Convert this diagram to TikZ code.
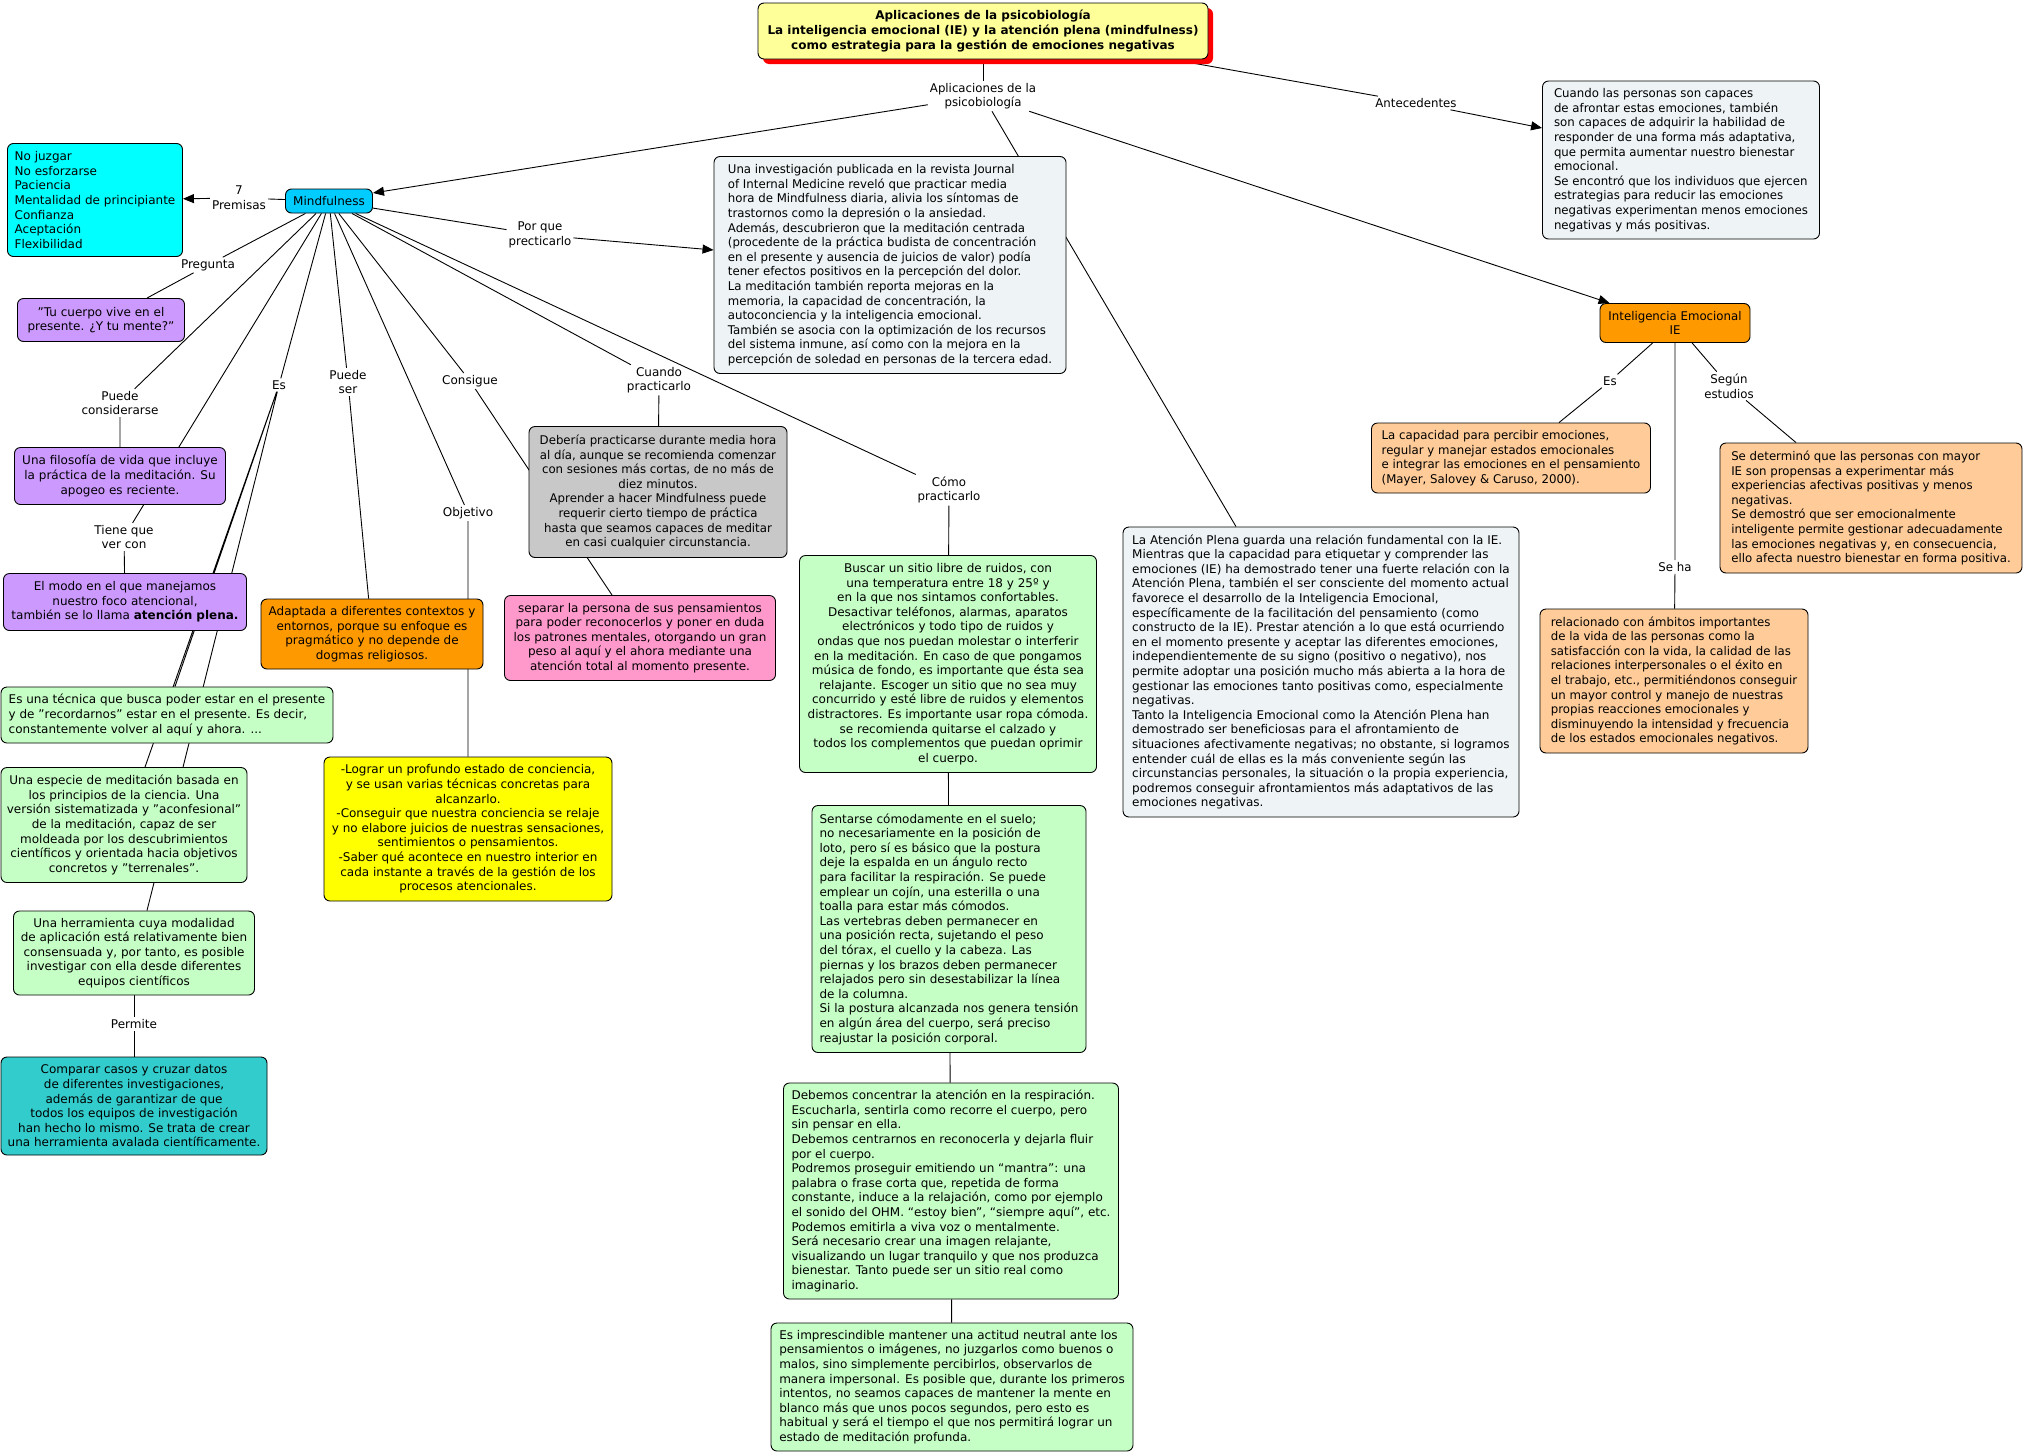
\documentclass[tikz,border=0pt]{standalone}
\usepackage{fontspec}
\setmainfont{DejaVu Sans}
\newfontfamily\tahoma[FakeStretch=0.98]{DejaVu Sans}
\usepackage{xcolor}
\usetikzlibrary{arrows.meta,shadows,backgrounds}
\definecolor{tituloam}{HTML}{FFFF99}
\definecolor{mfazul}{HTML}{00CCFF}
\definecolor{cian}{HTML}{00FFFF}
\definecolor{lila}{HTML}{CC99FF}
\definecolor{verdec}{HTML}{C6FFC6}
\definecolor{turquesa}{HTML}{33CCCC}
\definecolor{naranja}{HTML}{FF9900}
\definecolor{amarillo}{HTML}{FFFF00}
\definecolor{gris}{HTML}{C8C8C8}
\definecolor{rosa}{HTML}{FF99CC}
\definecolor{grisazul}{HTML}{EEF3F5}
\definecolor{melocoton}{HTML}{FFCC99}
\newcommand\mapfont{\fontsize{12}{14.6}\selectfont}

\begin{document}
\begin{tikzpicture}[
x=1pt,y=-1pt,
concept/.style={draw,rounded corners=6pt,line width=0.9pt,align=center,font=\mapfont,inner sep=4pt},
sz/.style 2 args={minimum width=#1,minimum height=#2},
lbl/.style={font=\mapfont,align=center,inner sep=2pt},
link/.style={line width=0.9pt},
arr/.style={-{Triangle[length=11pt,width=9pt]},line width=0.9pt}
]
\useasboundingbox (0,0) rectangle (2025,1454);

\node[concept,fill=tituloam,font=\mapfont\bfseries,general shadow={fill=red,shadow xshift=5pt,shadow yshift=-5pt},sz={450}{56}] (titulo) at (983,31) {Aplicaciones de la psicobiología\\La inteligencia emocional (IE) y la atención plena (mindfulness)\\como estrategia para la gestión de emociones negativas};
\node[lbl,font=\mapfont\tahoma] (aplic) at (983,96) {Aplicaciones de la\\psicobiología};

\node[concept,fill=mfazul,sz={87}{24}] (mind) at (329,201) {Mindfulness};
\node[concept,fill=cian,align=left,sz={175}{113}] (premisas) at (95,200) {No juzgar\\No esforzarse\\Paciencia\\Mentalidad de principiante\\Confianza\\Aceptación\\Flexibilidad};
\node[concept,fill=lila,sz={167}{43}] (cuerpo) at (101,320) {"Tu cuerpo vive en el\\presente. ¿Y tu mente?"};
\node[concept,fill=lila,sz={211}{57}] (filosofia) at (120,476) {Una filosofía de vida que incluye\\la práctica de la meditación. Su\\apogeo es reciente.};
\node[concept,fill=lila,sz={243}{57}] (modo) at (125,602) {El modo en el que manejamos\\nuestro foco atencional,\\también se lo llama \textbf{atención plena.}};
\node[concept,fill=verdec,align=left,sz={332}{56}] (tecnica) at (167,715) {Es una técnica que busca poder estar en el presente\\y de "recordarnos" estar en el presente. Es decir,\\constantemente volver al aquí y ahora. ...};
\node[concept,fill=verdec,sz={246}{115}] (especie) at (124,825) {Una especie de meditación basada en\\los principios de la ciencia. Una\\versión sistematizada y "aconfesional"\\de la meditación, capaz de ser\\moldeada por los descubrimientos\\científicos y orientada hacia objetivos\\concretos y "terrenales".};
\node[concept,fill=verdec,sz={241}{84}] (herram) at (134,953) {Una herramienta cuya modalidad\\de aplicación está relativamente bien\\consensuada y, por tanto, es posible\\investigar con ella desde diferentes\\equipos científicos};
\node[concept,fill=turquesa,sz={266}{98}] (comparar) at (134,1106) {Comparar casos y cruzar datos\\de diferentes investigaciones,\\además de garantizar de que\\todos los equipos de investigación\\han hecho lo mismo. Se trata de crear\\una herramienta avalada científicamente.};
\node[concept,fill=naranja,sz={222}{70}] (adaptada) at (372,634) {Adaptada a diferentes contextos y\\entornos, porque su enfoque es\\pragmático y no depende de\\dogmas religiosos.};
\node[concept,fill=amarillo,sz={288}{144}] (lograr) at (468,829) {-Lograr un profundo estado de conciencia,\\y se usan varias técnicas concretas para\\alcanzarlo.\\-Conseguir que nuestra conciencia se relaje\\y no elabore juicios de nuestras sensaciones,\\sentimientos o pensamientos.\\-Saber qué acontece en nuestro interior en\\cada instante a través de la gestión de los\\procesos atencionales.};
\node[concept,fill=gris,font=\mapfont\tahoma,sz={258}{131}] (deberia) at (658,492) {Debería practicarse durante media hora\\al día, aunque se recomienda comenzar\\con sesiones más cortas, de no más de\\diez minutos.\\Aprender a hacer Mindfulness puede\\requerir cierto tiempo de práctica\\hasta que seamos capaces de meditar\\en casi cualquier circunstancia.};
\node[concept,fill=rosa,sz={271}{85}] (separar) at (640,638) {separar la persona de sus pensamientos\\para poder reconocerlos y poner en duda\\los patrones mentales, otorgando un gran\\peso al aquí y el ahora mediante una\\atención total al momento presente.};
\node[concept,fill=grisazul,font=\mapfont\tahoma,align=left,sz={352}{217}] (investig) at (890,265) {Una investigación publicada en la revista Journal\\of Internal Medicine reveló que practicar media\\hora de Mindfulness diaria, alivia los síntomas de\\trastornos como la depresión o la ansiedad.\\Además, descubrieron que la meditación centrada\\(procedente de la práctica budista de concentración\\en el presente y ausencia de juicios de valor) podía\\tener efectos positivos en la percepción del dolor.\\La meditación también reporta mejoras en la\\memoria, la capacidad de concentración, la\\autoconciencia y la inteligencia emocional.\\También se asocia con la optimización de los recursos\\del sistema inmune, así como con la mejora en la\\percepción de soledad en personas de la tercera edad.};
\node[concept,fill=verdec,sz={297}{217}] (buscar) at (948,664) {Buscar un sitio libre de ruidos, con\\una temperatura entre 18 y 25º y\\en la que nos sintamos confortables.\\Desactivar teléfonos, alarmas, aparatos\\electrónicos y todo tipo de ruidos y\\ondas que nos puedan molestar o interferir\\en la meditación. En caso de que pongamos\\música de fondo, es importante que ésta sea\\relajante. Escoger un sitio que no sea muy\\concurrido y esté libre de ruidos y elementos\\distractores. Es importante usar ropa cómoda.\\se recomienda quitarse el calzado y\\todos los complementos que puedan oprimir\\el cuerpo.};
\node[concept,fill=verdec,align=left,sz={274}{247}] (sentarse) at (949,929) {Sentarse cómodamente en el suelo;\\no necesariamente en la posición de\\loto, pero sí es básico que la postura\\deje la espalda en un ángulo recto\\para facilitar la respiración. Se puede\\emplear un cojín, una esterilla o una\\toalla para estar más cómodos.\\Las vertebras deben permanecer en\\una posición recta, sujetando el peso\\del tórax, el cuello y la cabeza. Las\\piernas y los brazos deben permanecer\\relajados pero sin desestabilizar la línea\\de la columna.\\Si la postura alcanzada nos genera tensión\\en algún área del cuerpo, será preciso\\reajustar la posición corporal.};
\node[concept,fill=verdec,align=left,sz={335}{216}] (respira) at (951,1191) {Debemos concentrar la atención en la respiración.\\Escucharla, sentirla como recorre el cuerpo, pero\\sin pensar en ella.\\Debemos centrarnos en reconocerla y dejarla fluir\\por el cuerpo.\\Podremos proseguir emitiendo un “mantra”: una\\palabra o frase corta que, repetida de forma\\constante, induce a la relajación, como por ejemplo\\el sonido del OHM. “estoy bien”, “siempre aquí”, etc.\\Podemos emitirla a viva voz o mentalmente.\\Será necesario crear una imagen relajante,\\visualizando un lugar tranquilo y que nos produzca\\bienestar. Tanto puede ser un sitio real como\\imaginario.};
\node[concept,fill=verdec,align=left,sz={362}{128}] (neutral) at (952,1387) {Es imprescindible mantener una actitud neutral ante los\\pensamientos o imágenes, no juzgarlos como buenos o\\malos, sino simplemente percibirlos, observarlos de\\manera impersonal. Es posible que, durante los primeros\\intentos, no seamos capaces de mantener la mente en\\blanco más que unos pocos segundos, pero esto es\\habitual y será el tiempo el que nos permitirá lograr un\\estado de meditación profunda.};
\node[concept,fill=grisazul,align=left,sz={396}{290}] (atencion) at (1321,672) {La Atención Plena guarda una relación fundamental con la IE.\\Mientras que la capacidad para etiquetar y comprender las\\emociones (IE) ha demostrado tener una fuerte relación con la\\Atención Plena, también el ser consciente del momento actual\\favorece el desarrollo de la Inteligencia Emocional,\\específicamente de la facilitación del pensamiento (como\\constructo de la IE). Prestar atención a lo que está ocurriendo\\en el momento presente y aceptar las diferentes emociones,\\independientemente de su signo (positivo o negativo), nos\\permite adoptar una posición mucho más abierta a la hora de\\gestionar las emociones tanto positivas como, especialmente\\negativas.\\Tanto la Inteligencia Emocional como la Atención Plena han\\demostrado ser beneficiosas para el afrontamiento de\\situaciones afectivamente negativas; no obstante, si logramos\\entender cuál de ellas es la más conveniente según las\\circunstancias personales, la situación o la propia experiencia,\\podremos conseguir afrontamientos más adaptativos de las\\emociones negativas.};
\node[concept,fill=grisazul,font=\mapfont\tahoma,align=left,sz={277}{158}] (afrontar) at (1681,160) {Cuando las personas son capaces\\de afrontar estas emociones, también\\son capaces de adquirir la habilidad de\\responder de una forma más adaptativa,\\que permita aumentar nuestro bienestar\\emocional.\\Se encontró que los individuos que ejercen\\estrategias para reducir las emociones\\negativas experimentan menos emociones\\negativas y más positivas.};
\node[concept,fill=naranja,font=\mapfont\tahoma,sz={150}{39}] (ie) at (1675,323) {Inteligencia Emocional\\IE};
\node[concept,fill=melocoton,font=\mapfont\tahoma,align=left,sz={279}{70}] (capacidad) at (1511,458) {La capacidad para percibir emociones,\\regular y manejar estados emocionales\\e integrar las emociones en el pensamiento\\(Mayer, Salovey \& Caruso, 2000).};
\node[concept,fill=melocoton,font=\mapfont\tahoma,align=left,sz={302}{130}] (determino) at (1871,508) {Se determinó que las personas con mayor\\IE son propensas a experimentar más\\experiencias afectivas positivas y menos\\negativas.\\Se demostró que ser emocionalmente\\inteligente permite gestionar adecuadamente\\las emociones negativas y, en consecuencia,\\ello afecta nuestro bienestar en forma positiva.};
\node[concept,fill=melocoton,font=\mapfont\tahoma,align=left,sz={268}{144}] (relacion) at (1674,681) {relacionado con ámbitos importantes\\de la vida de las personas como la\\satisfacción con la vida, la calidad de las\\relaciones interpersonales o el éxito en\\el trabajo, etc., permitiéndonos conseguir\\un mayor control y manejo de nuestras\\propias reacciones emocionales y\\disminuyendo la intensidad y frecuencia\\de los estados emocionales negativos.};

\node[lbl] (siete) at (239,198) {7\\Premisas};
\node[lbl] (pregunta) at (208,265) {Pregunta};
\node[lbl] (considerarse) at (120,403) {Puede\\considerarse};
\node[lbl] (tiene) at (124,537) {Tiene que\\ver con};
\node[lbl] (es) at (279,385) {Es};
\node[lbl] (puedeser) at (348,382) {Puede\\ser};
\node[lbl] (objetivo) at (468,513) {Objetivo};
\node[lbl] (consigue) at (470,381) {Consigue};
\node[lbl] (cuando) at (659,380) {Cuando\\practicarlo};
\node[lbl,font=\mapfont\tahoma] (porque) at (540,235) {Por que\\precticarlo};
\node[lbl,font=\mapfont\tahoma] (como) at (949,490) {Cómo\\practicarlo};
\node[lbl] (permite) at (134,1024) {Permite};
\node[lbl,font=\mapfont\tahoma] (antec) at (1416,103) {Antecedentes};
\node[lbl,font=\mapfont\tahoma] (esie) at (1610,381) {Es};
\node[lbl,font=\mapfont\tahoma] (segun) at (1729,386) {Según\\estudios};
\node[lbl,font=\mapfont\tahoma] (seha) at (1675,567) {Se ha};

\begin{scope}[on background layer]
\fill[white] (0,0) rectangle (2025,1454);
\draw[link] (titulo) -- (aplic);
\draw[arr] (aplic) -- ([yshift=8]mind.east);
\draw[link] (aplic) -- ([xshift=-85]atencion.north);
\draw[arr] (aplic) -- ([xshift=10]ie.north west);
\draw[link] ([xshift=-36]titulo.south east) -- (antec);
\draw[arr] (antec) -- ([yshift=32]afrontar.west);
\draw[link] (mind) -- (siete);
\draw[arr] (siete) -- (premisas);
\draw[link] (mind) -- (pregunta) (pregunta) -- ([xshift=46]cuerpo.north);
\draw[link] (mind) -- (considerarse) (considerarse) -- (filosofia);
\draw[link] (mind) -- (tiene) (tiene) -- (modo);
\draw[link] (mind) -- (es);
\draw[link] (es) -- ([xshift=8]tecnica.north) (es) -- ([xshift=21]especie.north) (es) -- ([xshift=13]herram.north);
\draw[link] (mind) -- (puedeser) (puedeser) -- (adaptada);
\draw[link] (mind) -- (objetivo) (objetivo) -- (lograr);
\draw[link] (mind) -- (consigue) (consigue) -- ([xshift=-28]separar.north);
\draw[link] (mind) -- (cuando) (cuando) -- (deberia);
\draw[link] (mind) -- (como) (como) -- (buscar);
\draw[link] (mind) -- (porque);
\draw[arr] (porque) -- ([yshift=15]investig.west);
\draw[link] (herram) -- (permite) (permite) -- (comparar);
\draw[link] (buscar) -- (sentarse) (sentarse) -- (respira) (respira) -- (neutral);
\draw[link] (ie) -- (esie) (esie) -- ([xshift=48]capacidad.north);
\draw[link] (ie) -- (segun) (segun) -- ([xshift=-75]determino.north);
\draw[link] (ie) -- (seha) (seha) -- (relacion);
\end{scope}
\end{tikzpicture}
\end{document}
